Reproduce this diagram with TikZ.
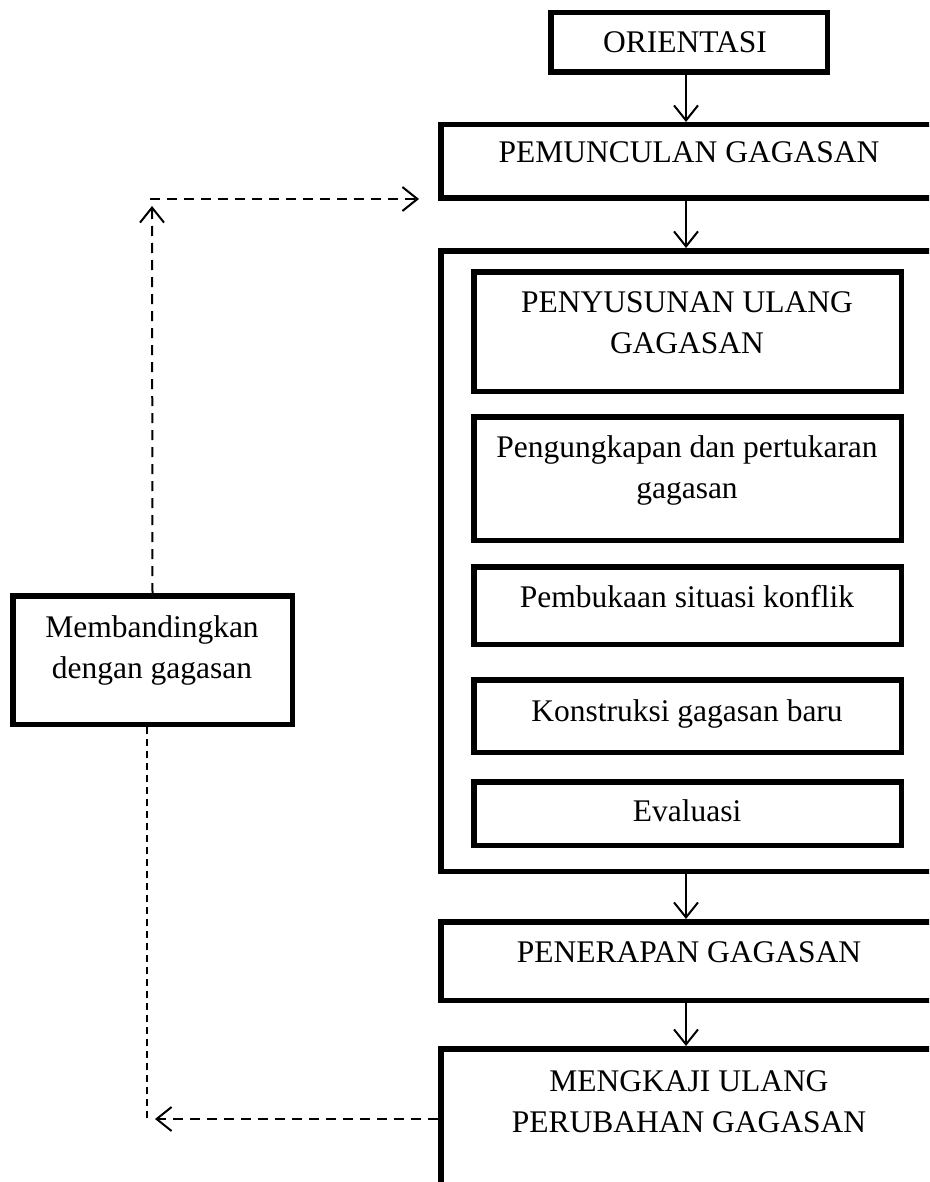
\documentclass[tikz,border=0pt]{standalone}
\usepackage{fontspec}
\setmainfont{Liberation Serif}
\usetikzlibrary{arrows.meta,calc}
\tikzset{
  box/.style={draw=black, line width=5.5pt, rectangle, inner sep=0pt, anchor=north west},
  txt/.style={font=\fontsize{31.5}{41}\selectfont, align=center, inner sep=0pt, anchor=base},
  arr/.style={line width=2pt, -{Straight Barb[length=15pt,width=24pt,line width=2pt]}},
  dsh/.style={line width=2pt, dash pattern=on 10pt off 7pt},
  dshthin/.style={line width=1.6pt, dash pattern=on 7pt off 5pt},
}
\begin{document}
\begin{tikzpicture}[x=1pt,y=-1pt]
\useasboundingbox (0,0) rectangle (929,1182);
\fill[white] (0,0) rectangle (929,1182);
\clip (0,0) rectangle (929,1182);

% boxes
\node[box, minimum width=276.5, minimum height=59.5] (orient) at (548,10) {};
\node[box, minimum width=556.5, minimum height=73.5] (pem) at (438,122) {};
\node[box, minimum width=556.5, minimum height=620.5] (cont) at (438,248) {};
\node[box, minimum width=427.5, minimum height=119.5] (in1) at (471,269) {};
\node[box, minimum width=427.5, minimum height=123.5] (in2) at (471,414) {};
\node[box, minimum width=427.5, minimum height=77.5] (in3) at (471,564) {};
\node[box, minimum width=427.5, minimum height=72.5] (in4) at (471,677) {};
\node[box, minimum width=427.5, minimum height=63.5] (in5) at (471,779) {};
\node[box, minimum width=556.5, minimum height=78.5] (pen) at (438,919) {};
\node[box, minimum width=556.5, minimum height=200] (mk) at (438,1046) {};
\node[box, minimum width=279.5, minimum height=128.5] (cmp) at (10,593) {};

% texts (anchor=base is the baseline of the last line)
\node[txt] (t-orient) at (685,53) {ORIENTASI};
\node[txt] (t-pem) at (689,163) {PEMUNCULAN GAGASAN};
\node[txt] (t-in1) at (687,353) {PENYUSUNAN ULANG\\GAGASAN};
\node[txt] (t-in2) at (687,498) {Pengungkapan dan pertukaran\\gagasan};
\node[txt] (t-in3) at (687,607) {Pembukaan situasi konflik};
\node[txt] (t-in4) at (687,721) {Konstruksi gagasan baru};
\node[txt] (t-in5) at (687,821) {Evaluasi};
\node[txt] (t-pen) at (689,962) {PENERAPAN GAGASAN};
\node[txt] (t-mk) at (689,1132) {MENGKAJI ULANG\\PERUBAHAN GAGASAN};
\node[txt] (t-cmp) at (152,678) {Membandingkan\\dengan gagasan};

% helper coordinates
\coordinate (ax) at (686,0);
\coordinate (fb) at (155,1119);
\coordinate (lx) at (147,0);
\coordinate (ut) at (152,206);
\coordinate (hs) at (150,199);

% solid arrows
\draw[arr] (orient.south -| ax) -- (pem.north -| ax);
\draw[arr] (pem.south -| ax) -- (cont.north -| ax);
\draw[arr] (cont.south -| ax) -- (pen.north -| ax);
\draw[arr] (pen.south -| ax) -- (mk.north -| ax);

% dashed feedback
\draw[dsh, arr] (mk.west |- fb) -- (fb);
\draw[dshthin] (cmp.south -| lx) -- (lx |- fb);
\draw[dsh, arr] (cmp.north) -- (ut);
\draw[dsh, arr] (hs) -- ($(pem.west |- hs)+(-19,0)$);
\end{tikzpicture}
\end{document}
